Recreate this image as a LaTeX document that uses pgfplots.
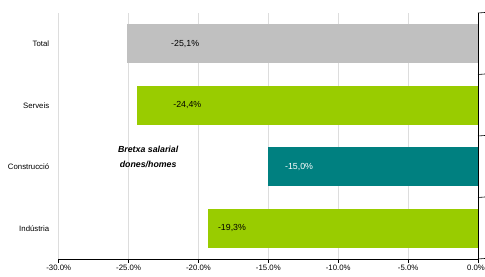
\documentclass[border=0pt]{standalone}
\usepackage{pgfplots}
\pgfplotsset{compat=1.18}
\usepackage{fontspec}
\setmainfont{Liberation Sans}
\definecolor{cgray}{HTML}{C0C0C0}
\definecolor{cgreen}{HTML}{99CC00}
\definecolor{cteal}{HTML}{008080}
\definecolor{cgrid}{HTML}{DDDDDD}
\begin{document}
\begin{tikzpicture}
\useasboundingbox (-58.7pt,-17pt) rectangle (426.3pt,259pt);
\begin{axis}[
  scale only axis,
  width=419.3pt, height=246pt,
  xbar, bar width=39pt, bar shift=0pt,
  xmin=-30, xmax=0,
  ymin=-0.5, ymax=3.5,
  xtick={-30,-25,-20,-15,-10,-5,0},
  xticklabels={-30.0\%,-25.0\%,-20.0\%,-15.0\%,-10.0\%,-5.0\%,\hspace*{-4pt}0.0\%},
  ytick={0,1,2,3},
  yticklabels={Indústria,Construcció,Serveis,Total},
  axis line style={draw=none},
  ytick style={draw=none},
  xtick style={draw=black, line width=0.6pt},
  xtick pos=bottom, tick align=outside, major tick length=4pt,
  xmajorgrids, grid style={cgrid, line width=0.6pt},
  tick label style={font=\fontsize{7.8}{9}\selectfont},
  xticklabel style={yshift=1pt},
  yticklabel style={xshift=-2pt},
  clip=false,
]
\addplot[draw=none, fill=cgray] coordinates {(-25.1,3)};
\addplot[draw=none, fill=cgreen] coordinates {(-24.4,2)};
\addplot[draw=none, fill=cteal] coordinates {(-15.0,1)};
\addplot[draw=none, fill=cgreen] coordinates {(-19.3,0)};
\draw[black, line width=0.8pt] (axis cs:0,-0.5) -- (axis cs:0,3.5);
\draw[black, line width=0.8pt] (axis cs:-30,-0.5) -- (axis cs:0,-0.5);
\pgfplotsinvokeforeach{-0.5,0.5,1.5,2.5,3.5}{
  \draw[black, line width=0.6pt] (axis cs:0,#1) -- ++(-3pt,0);
}
\node[font=\fontsize{8.8}{10}\selectfont] at (axis cs:-20.95,3) {-25,1\%};
\node[font=\fontsize{8.8}{10}\selectfont] at (axis cs:-20.8,2) {-24,4\%};
\node[font=\fontsize{8.8}{10}\selectfont, text=white] at (axis cs:-12.8,1) {-15,0\%};
\node[font=\fontsize{8.8}{10}\selectfont] at (axis cs:-17.6,0) {-19,3\%};
\node[font=\fontsize{8.8}{14.5}\selectfont\bfseries\itshape, align=center] at (axis cs:-23.6,1.16) {Bretxa salarial\\dones/homes};
\end{axis}
\end{tikzpicture}
\end{document}
